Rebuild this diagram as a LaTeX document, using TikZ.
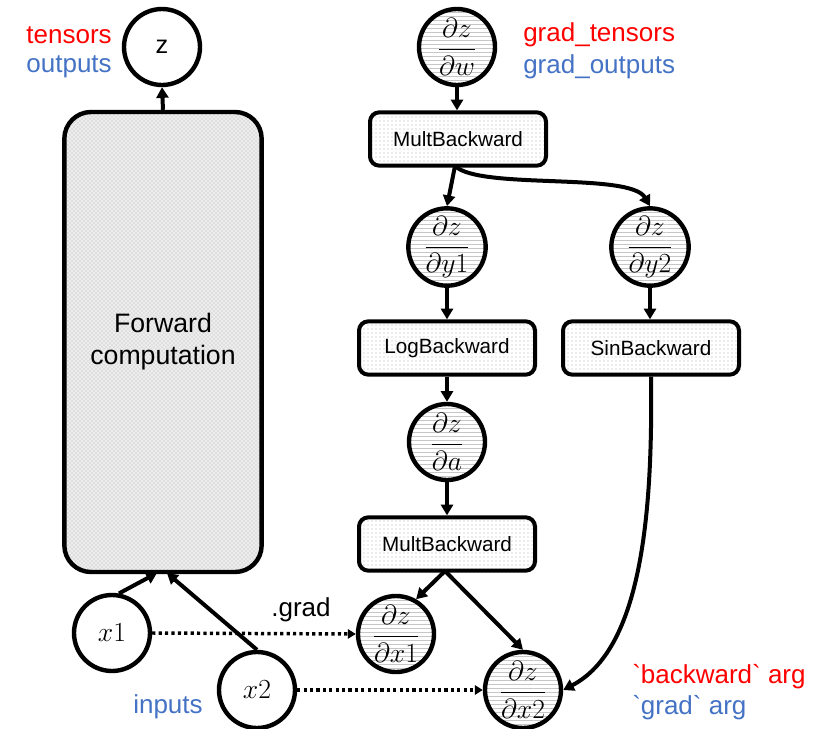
\documentclass[tikz,border=0pt]{standalone}
\usepackage{fontspec}
\setmainfont{Liberation Sans}
\usetikzlibrary{patterns,arrows.meta}
\definecolor{myred}{RGB}{255,0,0}
\definecolor{myblue}{RGB}{68,114,196}
\begin{document}
\begin{tikzpicture}[x=0.75pt,y=-0.75pt,
  circ/.style={circle,draw,line width=3.3pt,minimum size=57pt,inner sep=0pt},
  gcirc/.style={circ,preaction={fill=white},pattern=horizontal lines,pattern color=gray!45,
     font=\fontsize{20}{24}\selectfont},
  bwbox/.style={draw,rounded corners=7pt,line width=3pt,minimum width=132pt,minimum height=40pt,
     inner sep=0pt,preaction={fill=white},pattern=dots,pattern color=gray!60,
     font=\fontsize{15.5}{18}\selectfont},
  arr/.style={line width=3pt,-{Triangle[length=8pt,width=9pt]}},
  dotarr/.style={line width=2.6pt,dash pattern=on 2.4pt off 2.4pt,-{Triangle[length=6pt,width=7pt]}},
  lbl/.style={font=\fontsize{19.5}{23}\selectfont,inner sep=0pt},
]
\useasboundingbox (0,0) rectangle (833,729);

% forward part
\node[draw,line width=3.3pt,rounded corners=20pt,minimum width=148pt,minimum height=345pt,
      preaction={fill=gray!14},pattern=crosshatch dots,pattern color=gray!60,
      align=center,font=\fontsize{20}{24}\selectfont] (fwd) at (163,342)
      {Forward\\computation};
\node[circ,font=\fontsize{19}{22}\selectfont] (z) at (162,47) {z};
\node[circ,font=\fontsize{22}{26}\selectfont] (x1) at (112,633) {$x1$};
\node[circ,font=\fontsize{22}{26}\selectfont] (x2) at (257,690) {$x2$};
\coordinate (in1) at (157,573);
\coordinate (in2) at (167,573);
\draw[arr] (fwd.north) -- (z.south);
\draw[arr] (x1.80) -- (in1);
\draw[arr] (x2.north) -- (in2);

% backward part
\node[gcirc] (dw) at (457,47) {$\displaystyle\frac{\partial z}{\partial w}$};
\node[bwbox] (mb1) at (458,139) {MultBackward};
\node[gcirc] (dy1) at (447,247) {$\displaystyle\frac{\partial z}{\partial y1}$};
\node[gcirc] (dy2) at (650,247) {$\displaystyle\frac{\partial z}{\partial y2}$};
\node[bwbox] (lb) at (447,348) {LogBackward};
\node[bwbox] (sb) at (651,348) {SinBackward};
\node[gcirc] (da) at (447,442) {$\displaystyle\frac{\partial z}{\partial a}$};
\node[bwbox] (mb2) at (447,544) {MultBackward};
\node[gcirc] (dx1) at (396,634) {$\displaystyle\frac{\partial z}{\partial x1}$};
\node[gcirc] (dx2) at (523,690) {$\displaystyle\frac{\partial z}{\partial x2}$};

\coordinate (m1s) at (455,166);
\draw[arr] (dw.south) -- (dw.south |- mb1.north);
\draw[arr] (m1s) -- (dy1.north);
\draw[arr] (m1s) .. controls (480,190) and (630,172) .. (dy2.north);
\draw[arr] (dy1.south) -- (dy1.south |- lb.north);
\draw[arr] (dy2.south) -- (dy2.south |- sb.north);
\draw[arr] (lb.south -| da) -- (da.north);
\draw[arr] (da.south) -- (da.south |- mb2.north);
\coordinate (m2s) at (445,571);
\draw[arr] (m2s) -- (dx1.60);
\draw[arr] (m2s) -- (dx2.north);
\draw[arr] (sb.south) .. controls (653,520) and (640,650) .. (dx2.east);

\draw[dotarr] (x1.east) -- (dx1.west);
\draw[dotarr] (x2.east) -- (dx2.west);

% labels
\node[lbl,anchor=south] (gradlbl) at (301,622) {.grad};
\node[lbl,anchor=east,myred] (t1) at (112,35) {tensors};
\node[lbl,anchor=east,myblue] (t2) at (112,67) {outputs};
\node[lbl,anchor=west,myred] (t3) at (523,35) {grad\_tensors};
\node[lbl,anchor=west,myblue] (t4) at (523,67) {grad\_outputs};
\node[lbl,myblue] (t5) at (168,707) {inputs};
\node[lbl,anchor=west,myred] (t6) at (632,677) {\textasciigrave backward\textasciigrave\ arg};
\node[lbl,anchor=west,myblue] (t7) at (632,708) {\textasciigrave grad\textasciigrave\ arg};
\end{tikzpicture}
\end{document}
